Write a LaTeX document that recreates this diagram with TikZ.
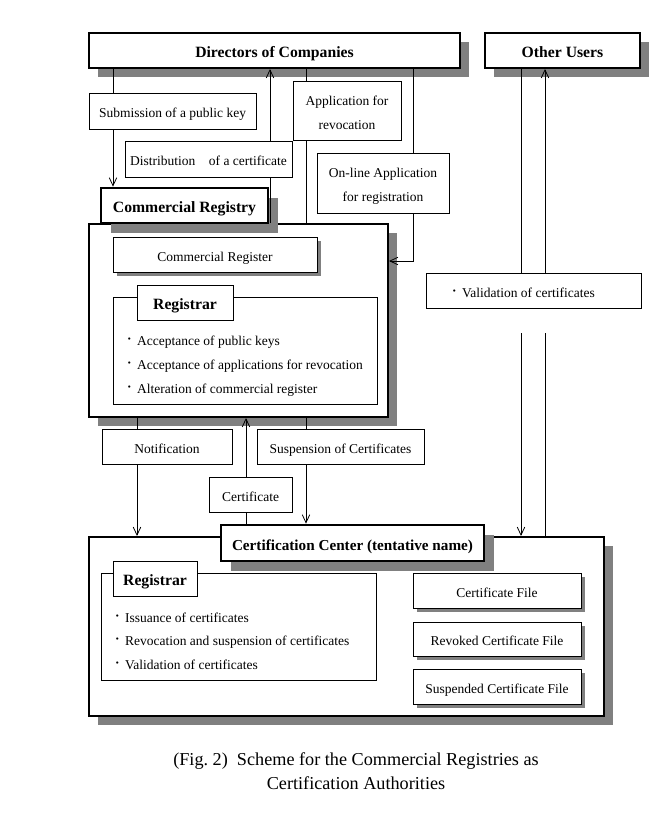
\documentclass[tikz,border=0pt]{standalone}
\usepackage{fontspec}
\setmainfont{Liberation Serif}
\usetikzlibrary{shadows,arrows.meta}
\definecolor{shd}{gray}{0.5}
\pgfdeclarelayer{fg}
\pgfsetlayers{main,fg}
\newcommand\regfont{\fontsize{13.5}{24}\selectfont}
\newcommand\hdrfont{\fontsize{15.7}{18}\selectfont\bfseries}
\newcommand\ccfont{\fontsize{15.2}{18}\selectfont\bfseries}
\newcommand\captfont{\fontsize{18.2}{24}\selectfont}
\newcommand\bul{\raisebox{0.3ex}{\bfseries\textperiodcentered}\hspace{0.4em}}
% \mybox{name}{style}{x1}{y1}{x2}{y2}{text}
\newcommand\mybox[7]{\node[#2, minimum width={#5-#3}, minimum height={#6-#4}] (#1) at ({(#3+#5)/2},{(#4+#6)/2}) {#7};}
\begin{document}
\begin{tikzpicture}[x=1pt,y=-1pt,
  hdrtext/.style={font=\hdrfont, text height=15.4pt, text depth=1pt},
  regtext/.style={font=\regfont, text height=14pt, text depth=1pt},
  twoline/.style={font=\regfont, align=center},
  mainbox/.style={draw, line width=2pt, fill=white, inner sep=0pt, hdrtext,
    general shadow={fill=shd, shadow xshift=9pt, shadow yshift=-9pt}},
  titlebox/.style={draw, line width=2.8pt, fill=white, inner sep=0pt, hdrtext,
    general shadow={fill=shd, shadow xshift=10pt, shadow yshift=-10pt}},
  lbl/.style={draw, line width=0.8pt, fill=white, inner sep=0pt, regtext},
  twobox/.style={draw, line width=0.8pt, fill=white, inner sep=0pt, twoline},
  filebox/.style={lbl, general shadow={fill=shd, shadow xshift=3.5pt, shadow yshift=-3.5pt}},
  tagbox/.style={draw, line width=0.8pt, fill=white, inner sep=0pt, hdrtext},
  frame/.style={draw, line width=0.8pt},
  item/.style={anchor=west, inner sep=0pt, font=\regfont},
  conn/.style={line width=0.8pt},
  arr/.style={conn, -{Straight Barb[length=8pt,width=7.5pt,line width=0.8pt]}}]
\useasboundingbox (0,0) rectangle (670,820);

% main boxes
\mybox{dir}{mainbox}{89}{33}{460}{68}{Directors of Companies}
\mybox{ou}{mainbox}{485}{33}{640}{68}{Other Users}
\mybox{crbox}{mainbox}{89}{224}{388}{417}{}
\mybox{creg}{titlebox}{101}{188}{268}{223}{Commercial Registry}
\mybox{crr}{filebox}{113}{237}{317}{272}{Commercial Register}
\mybox{rfr1}{frame}{113}{297}{377}{404}{}
\mybox{rt1}{tagbox}{137}{285}{233}{320}{Registrar}
\node[item] (i1) at (127,342) {\bul Acceptance of public keys};
\node[item] (i2) at (127,366) {\bul Acceptance of applications for revocation};
\node[item] (i3) at (127,390) {\bul Alteration of commercial register};

\mybox{cc}{mainbox}{89}{537}{604}{716}{}
\mybox{ccl}{titlebox, font=\ccfont}{221}{525}{484}{561}{Certification Center (tentative name)}
\mybox{rfr2}{frame}{101}{573}{376}{680}{}
\mybox{rt2}{tagbox}{113}{561}{197}{596}{Registrar}
\node[item] (j1) at (115,618) {\bul Issuance of certificates};
\node[item] (j2) at (115,642) {\bul Revocation and suspension of certificates};
\node[item] (j3) at (115,665) {\bul Validation of certificates};
\mybox{f1}{filebox}{413}{573}{581}{608}{Certificate File}
\mybox{f2}{filebox}{413}{622}{581}{656}{Revoked Certificate File}
\mybox{f3}{filebox}{413}{669}{581}{704}{Suspended Certificate File}

% label boxes (on top of the connectors)
\begin{pgfonlayer}{fg}
\mybox{sub}{lbl}{89}{93}{256}{129}{Submission of a public key}
\mybox{dis}{lbl}{125}{141}{292}{177}{Distribution\quad of a certificate}
\mybox{app}{twobox}{293}{81}{401}{140}{\rule{0pt}{15pt}Application for\\revocation}
\mybox{onl}{twobox}{317}{153}{449}{213}{\rule{0pt}{15pt}On-line Application\\for registration}
\mybox{val}{lbl}{426}{273}{641}{308}{\bul Validation of certificates\kern20pt\relax}
\mybox{noti}{lbl}{102}{429}{232}{464}{Notification}
\mybox{susp}{lbl}{257}{429}{424}{464}{Suspension of Certificates}
\mybox{cert}{lbl}{209}{477}{292}{512}{Certificate}
\end{pgfonlayer}

% x positions of the connectors
\coordinate (xa) at (113,0);
\coordinate (xb) at (270,0);
\coordinate (xc) at (306,0);
\coordinate (turn) at (413,261);
\coordinate (xe) at (521,0);
\coordinate (xf) at (545,0);
\coordinate (gap) at (0,333);
\coordinate (xg) at (137,0);
\coordinate (xh) at (246,0);

\draw[arr] (xa |- dir.south) -- (xa |- creg.north);
\draw[arr] (xb |- crbox.north) -- (xb |- dir.south);
\draw[conn] (xc |- dir.south) -- (xc |- crbox.north);
\draw[arr] (turn |- dir.south) -- (turn) -- (turn -| crbox.east);
\draw[conn] (xe |- ou.south) -- (xe |- val.north);
\draw[arr] (xe |- gap) -- (xe |- cc.north);
\draw[conn] (xf |- cc.north) -- (xf |- gap);
\draw[arr] (xf |- val.north) -- (xf |- ou.south);
\draw[arr] (xg |- crbox.south) -- (xg |- cc.north);
\draw[arr] (xh |- ccl.north) -- (xh |- crbox.south);
\draw[arr] (xc |- crbox.south) -- (xc |- ccl.north);

% caption
\node[font=\captfont, align=center, inner sep=0pt] (capt) at (356,771)
  {(Fig.~2)\enspace Scheme for the Commercial Registries as\\Certification Authorities};
\end{tikzpicture}
\end{document}
